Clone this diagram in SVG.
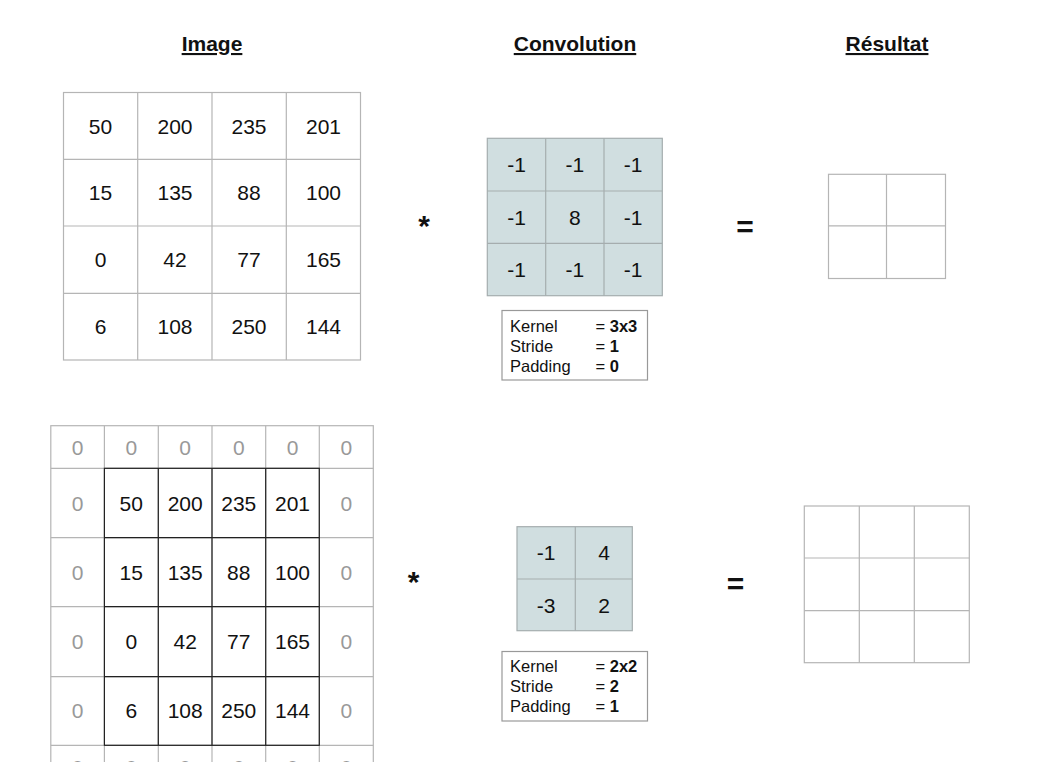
<svg xmlns="http://www.w3.org/2000/svg" width="1062" height="762" viewBox="0 0 1062 762">
<style>
text{font-family:"Liberation Sans",Arial,sans-serif;fill:#111}
.t{font-size:21px;font-weight:bold;text-decoration:underline;text-anchor:middle}
.n{font-size:21px;text-anchor:middle}
.k{font-size:21px;text-anchor:middle}
.z{font-size:21px;text-anchor:middle;fill:#999}
.p{font-size:16.5px}
.b{font-weight:bold}
.op{font-size:30px;font-weight:bold;text-anchor:middle}
.g{fill:none;stroke:#b5b5b5;stroke-width:1.2}
.kg{fill:#d0dee0;stroke:#a5adae;stroke-width:1.2}
.kl{stroke:#a5adae;stroke-width:1.2}
.gl{stroke:#b5b5b5;stroke-width:1.2}
.bl{stroke:#222;stroke-width:1.2;fill:none}
.box{fill:#fff;stroke:#999;stroke-width:1.2}
</style>
<rect width="1062" height="762" fill="#fff"/>
<g id="titles">
<text class="t" x="212" y="51">Image</text>
<text class="t" x="575" y="51">Convolution</text>
<text class="t" x="887" y="51">Résultat</text>
</g>
<g id="image-top">
<rect class="g" x="63.5" y="92.5" width="297" height="267.5"/>
<line class="gl" x1="137.7" y1="92.5" x2="137.7" y2="360"/>
<line class="gl" x1="212" y1="92.5" x2="212" y2="360"/>
<line class="gl" x1="286.3" y1="92.5" x2="286.3" y2="360"/>
<line class="gl" x1="63.5" y1="159.3" x2="360.5" y2="159.3"/>
<line class="gl" x1="63.5" y1="226" x2="360.5" y2="226"/>
<line class="gl" x1="63.5" y1="293.3" x2="360.5" y2="293.3"/>
<text class="n" x="100.5" y="133.5">50</text><text class="n" x="175" y="133.5">200</text><text class="n" x="249" y="133.5">235</text><text class="n" x="323.5" y="133.5">201</text>
<text class="n" x="100.5" y="200.2">15</text><text class="n" x="175" y="200.2">135</text><text class="n" x="249" y="200.2">88</text><text class="n" x="323.5" y="200.2">100</text>
<text class="n" x="100.5" y="267">0</text><text class="n" x="175" y="267">42</text><text class="n" x="249" y="267">77</text><text class="n" x="323.5" y="267">165</text>
<text class="n" x="100.5" y="334">6</text><text class="n" x="175" y="334">108</text><text class="n" x="249" y="334">250</text><text class="n" x="323.5" y="334">144</text>
</g>
<g id="op-top">
<text class="op" x="424" y="236">*</text>
<text class="op" x="745" y="237">=</text>
</g>
<g id="kernel-3x3">
<rect class="kg" x="487.3" y="138.3" width="175" height="157.4"/>
<line class="kl" x1="545.7" y1="138.3" x2="545.7" y2="295.7"/>
<line class="kl" x1="604" y1="138.3" x2="604" y2="295.7"/>
<line class="kl" x1="487.3" y1="191" x2="662.3" y2="191"/>
<line class="kl" x1="487.3" y1="243.3" x2="662.3" y2="243.3"/>
<text class="k" x="516.5" y="172.3">-1</text><text class="k" x="574.8" y="172.3">-1</text><text class="k" x="633.2" y="172.3">-1</text>
<text class="k" x="516.5" y="224.8">-1</text><text class="k" x="574.8" y="224.8">8</text><text class="k" x="633.2" y="224.8">-1</text>
<text class="k" x="516.5" y="277">-1</text><text class="k" x="574.8" y="277">-1</text><text class="k" x="633.2" y="277">-1</text>
</g>
<g id="params-top">
<rect class="box" x="502" y="310.5" width="145.5" height="69.5"/>
<text class="p" x="510" y="332">Kernel</text><text class="p" x="595.5" y="332">= <tspan class="b">3x3</tspan></text>
<text class="p" x="510" y="352">Stride</text><text class="p" x="595.5" y="352">= <tspan class="b">1</tspan></text>
<text class="p" x="510" y="372">Padding</text><text class="p" x="595.5" y="372">= <tspan class="b">0</tspan></text>
</g>
<g id="result-2x2">
<rect class="g" x="828.5" y="174.3" width="117" height="104.2"/>
<line class="gl" x1="886.5" y1="174.3" x2="886.5" y2="278.5"/>
<line class="gl" x1="828.5" y1="225.8" x2="945.5" y2="225.8"/>
</g>
<g id="image-padded">
<rect class="g" x="50.8" y="425.7" width="322.5" height="362"/>
<line class="gl" x1="104.4" y1="425.7" x2="104.4" y2="762"/>
<line class="gl" x1="158.3" y1="425.7" x2="158.3" y2="762"/>
<line class="gl" x1="212" y1="425.7" x2="212" y2="762"/>
<line class="gl" x1="265.7" y1="425.7" x2="265.7" y2="762"/>
<line class="gl" x1="319.3" y1="425.7" x2="319.3" y2="762"/>
<line class="gl" x1="50.8" y1="468.3" x2="373.3" y2="468.3"/>
<line class="gl" x1="50.8" y1="537.7" x2="373.3" y2="537.7"/>
<line class="gl" x1="50.8" y1="606.7" x2="373.3" y2="606.7"/>
<line class="gl" x1="50.8" y1="676.7" x2="373.3" y2="676.7"/>
<line class="gl" x1="50.8" y1="745.3" x2="373.3" y2="745.3"/>
<rect class="bl" x="104.4" y="468.3" width="214.9" height="277"/>
<line class="bl" x1="158.3" y1="468.3" x2="158.3" y2="745.3"/>
<line class="bl" x1="212" y1="468.3" x2="212" y2="745.3"/>
<line class="bl" x1="265.7" y1="468.3" x2="265.7" y2="745.3"/>
<line class="bl" x1="104.4" y1="537.7" x2="319.3" y2="537.7"/>
<line class="bl" x1="104.4" y1="606.7" x2="319.3" y2="606.7"/>
<line class="bl" x1="104.4" y1="676.7" x2="319.3" y2="676.7"/>
<text class="z" x="77.6" y="455">0</text><text class="z" x="131.3" y="455">0</text><text class="z" x="185.2" y="455">0</text><text class="z" x="238.8" y="455">0</text><text class="z" x="292.5" y="455">0</text><text class="z" x="346.3" y="455">0</text>
<text class="z" x="77.6" y="510.5">0</text><text class="n" x="131.3" y="510.5">50</text><text class="n" x="185.2" y="510.5">200</text><text class="n" x="238.8" y="510.5">235</text><text class="n" x="292.5" y="510.5">201</text><text class="z" x="346.3" y="510.5">0</text>
<text class="z" x="77.6" y="579.7">0</text><text class="n" x="131.3" y="579.7">15</text><text class="n" x="185.2" y="579.7">135</text><text class="n" x="238.8" y="579.7">88</text><text class="n" x="292.5" y="579.7">100</text><text class="z" x="346.3" y="579.7">0</text>
<text class="z" x="77.6" y="649.2">0</text><text class="n" x="131.3" y="649.2">0</text><text class="n" x="185.2" y="649.2">42</text><text class="n" x="238.8" y="649.2">77</text><text class="n" x="292.5" y="649.2">165</text><text class="z" x="346.3" y="649.2">0</text>
<text class="z" x="77.6" y="718.3">0</text><text class="n" x="131.3" y="718.3">6</text><text class="n" x="185.2" y="718.3">108</text><text class="n" x="238.8" y="718.3">250</text><text class="n" x="292.5" y="718.3">144</text><text class="z" x="346.3" y="718.3">0</text>
<text class="z" x="77.6" y="775">0</text><text class="z" x="131.3" y="775">0</text><text class="z" x="185.2" y="775">0</text><text class="z" x="238.8" y="775">0</text><text class="z" x="292.5" y="775">0</text><text class="z" x="346.3" y="775">0</text>
</g>
<g id="op-bottom">
<text class="op" x="413.5" y="592">*</text>
<text class="op" x="735.5" y="594">=</text>
</g>
<g id="kernel-2x2">
<rect class="kg" x="517" y="526.7" width="115.3" height="104"/>
<line class="kl" x1="575.3" y1="526.7" x2="575.3" y2="630.7"/>
<line class="kl" x1="517" y1="579" x2="632.3" y2="579"/>
<text class="k" x="546" y="560.3">-1</text><text class="k" x="604" y="560.3">4</text>
<text class="k" x="546" y="612.5">-3</text><text class="k" x="604" y="612.5">2</text>
</g>
<g id="params-bottom">
<rect class="box" x="502" y="651.5" width="145.5" height="69.5"/>
<text class="p" x="510" y="672.3">Kernel</text><text class="p" x="595.5" y="672.3">= <tspan class="b">2x2</tspan></text>
<text class="p" x="510" y="692.3">Stride</text><text class="p" x="595.5" y="692.3">= <tspan class="b">2</tspan></text>
<text class="p" x="510" y="712.3">Padding</text><text class="p" x="595.5" y="712.3">= <tspan class="b">1</tspan></text>
</g>
<g id="result-3x3">
<rect class="g" x="804.3" y="506" width="165" height="156.7"/>
<line class="gl" x1="859.3" y1="506" x2="859.3" y2="662.7"/>
<line class="gl" x1="914.3" y1="506" x2="914.3" y2="662.7"/>
<line class="gl" x1="804.3" y1="558" x2="969.3" y2="558"/>
<line class="gl" x1="804.3" y1="610.7" x2="969.3" y2="610.7"/>
</g>
<g id="connectors"></g>
</svg>
